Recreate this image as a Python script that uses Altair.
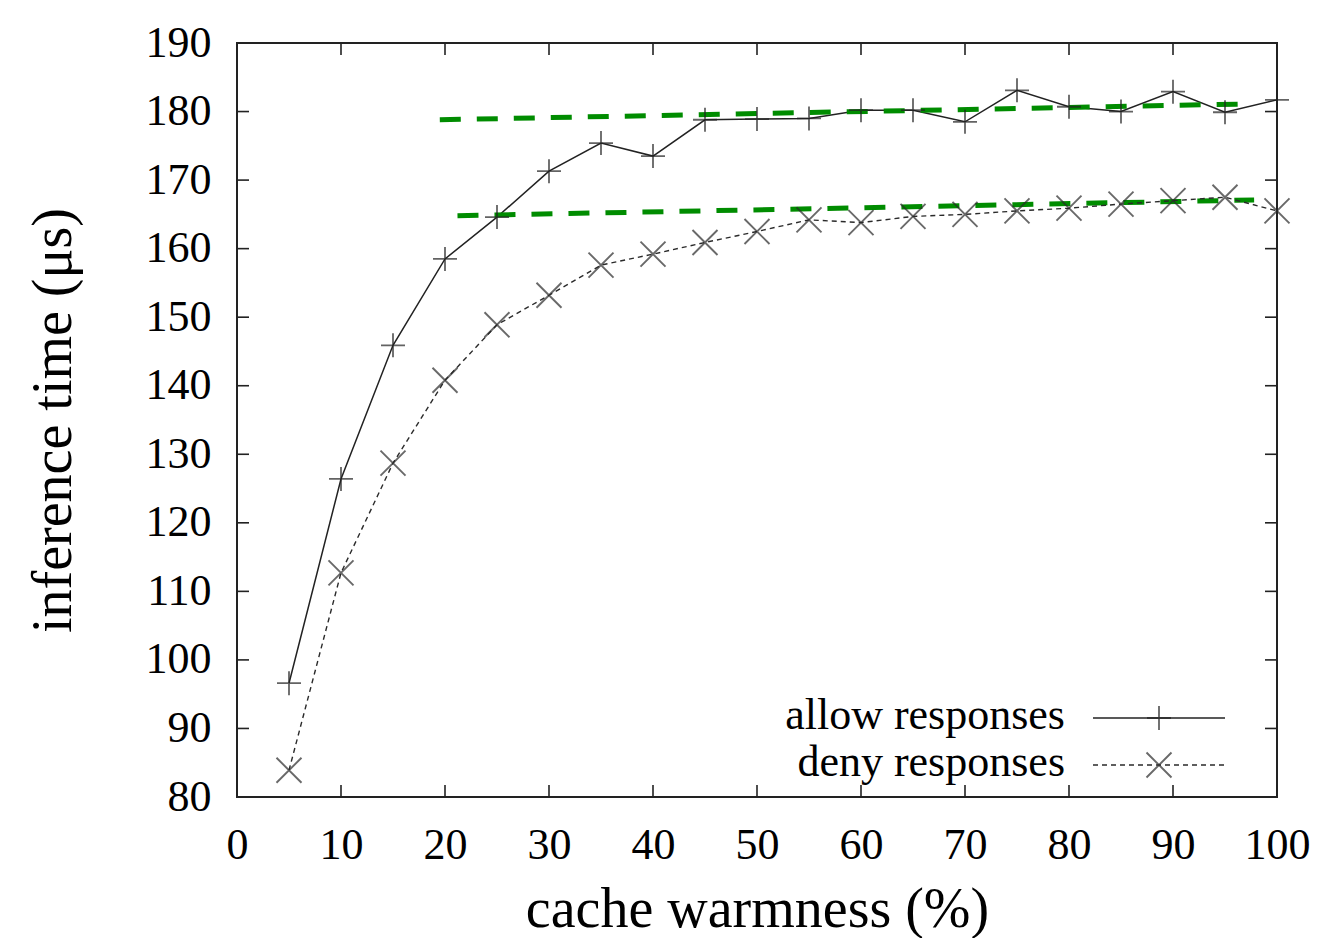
import altair as alt
import pandas as pd

# ---- data ----
WARMNESS = [5, 10, 15, 20, 25, 30, 35, 40, 45, 50, 55, 60, 65, 70, 75, 80, 85, 90, 95, 100]
ALLOW = [96.6, 126.4, 145.9, 158.5, 164.6, 171.3, 175.4, 173.5, 178.8, 178.9,
         179.0, 180.2, 180.2, 178.5, 183.1, 180.7, 180.0, 182.9, 179.9, 181.7]
DENY = [83.9, 112.7, 128.7, 140.8, 148.9, 153.2, 157.6, 159.2, 160.9, 162.5,
        164.2, 163.8, 164.7, 165.0, 165.5, 165.9, 166.5, 167.0, 167.5, 165.5]
SERIES = ["allow responses", "deny responses"]

TREND_ALLOW_X = [19.5, 96.9]
TREND_ALLOW_Y = [178.8, 181.1]
TREND_DENY_X = [21.2, 97.8]
TREND_DENY_Y = [164.8, 167.1]

XTICKS = list(range(0, 101, 10))
YTICKS = list(range(80, 191, 10))

W, H = 1040, 754
FONT = "Liberation Serif"
PLUS = "M-1,0L1,0M0,-1L0,1"
CROSS = "M-1,-1L1,1M-1,1L1,-1"

xscale = alt.Scale(domain=[0, 100], nice=False, zero=False)
yscale = alt.Scale(domain=[80, 190], nice=False, zero=False)

allow_df = pd.DataFrame({"x": WARMNESS, "y": ALLOW})
deny_df = pd.DataFrame({"x": WARMNESS, "y": DENY})
one = pd.DataFrame({"k": [0]})

xenc = alt.X("x:Q", scale=xscale, axis=alt.Axis(
    values=XTICKS, title="cache warmness (%)", ticks=False, domain=False, grid=False,
    labelFontSize=44, labelPadding=26, titleFontSize=56, titleFont=FONT, labelFont=FONT,
    titleFontWeight="normal", titlePadding=15, labelColor="black", titleColor="black",
    labelFlush=False))
yenc = alt.Y("y:Q", scale=yscale, axis=alt.Axis(
    values=YTICKS, title="inference time (μs)", ticks=False, domain=False, grid=False,
    labelFontSize=44, labelPadding=26, titleFontSize=56, titleFont=FONT, labelFont=FONT,
    titleFontWeight="normal", titlePadding=63, labelColor="black", titleColor="black",
    labelFlush=False))

allow_line = alt.Chart(allow_df).mark_line(color="#222", strokeWidth=1.5).encode(x=xenc, y=yenc)
allow_pts = alt.Chart(allow_df).mark_point(shape=PLUS, size=576, filled=False,
                                           color="#222", strokeWidth=1.8).encode(x="x:Q", y="y:Q")
deny_line = alt.Chart(deny_df).mark_line(color="#2a2a2a", strokeWidth=1.4,
                                         strokeDash=[5, 4]).encode(x="x:Q", y="y:Q")
deny_pts = alt.Chart(deny_df).mark_point(shape=CROSS, size=625, filled=False,
                                         color="#2a2a2a", strokeWidth=1.9).encode(x="x:Q", y="y:Q")

trend_a = alt.Chart(pd.DataFrame({"x": TREND_ALLOW_X, "y": TREND_ALLOW_Y})).mark_line(
    color="#008c00", strokeWidth=5, strokeDash=[21, 16]).encode(x="x:Q", y="y:Q")
trend_d = alt.Chart(pd.DataFrame({"x": TREND_DENY_X, "y": TREND_DENY_Y})).mark_line(
    color="#008c00", strokeWidth=5, strokeDash=[21, 16]).encode(x="x:Q", y="y:Q")

# inward ticks on all four sides (gnuplot style)
TK = 12
ydf = pd.DataFrame({"v": YTICKS})
xdf = pd.DataFrame({"v": XTICKS})
tick_style = dict(color="#222", strokeWidth=1.6)
yt_left = alt.Chart(ydf).mark_rule(**tick_style).encode(y="v:Q", x=alt.value(0), x2=alt.value(TK))
yt_right = alt.Chart(ydf).mark_rule(**tick_style).encode(y="v:Q", x=alt.value(W - TK), x2=alt.value(W))
xt_bot = alt.Chart(xdf).mark_rule(**tick_style).encode(x="v:Q", y=alt.value(H), y2=alt.value(H - TK))
xt_top = alt.Chart(xdf).mark_rule(**tick_style).encode(x="v:Q", y=alt.value(0), y2=alt.value(TK))

# key (label on the left, sample on the right)
LX, SX0, SX1, MX = 828, 856, 988, 922
R1, R2 = 675, 722
key_t1 = alt.Chart(one).mark_text(text=SERIES[0], align="right", baseline="middle",
                                  font=FONT, fontSize=44, color="black").encode(
    x=alt.value(LX), y=alt.value(R1 - 2))
key_t2 = alt.Chart(one).mark_text(text=SERIES[1], align="right", baseline="middle",
                                  font=FONT, fontSize=44, color="black").encode(
    x=alt.value(LX), y=alt.value(R2 - 2))
key_l1 = alt.Chart(one).mark_rule(color="#222", strokeWidth=1.5).encode(
    x=alt.value(SX0), x2=alt.value(SX1), y=alt.value(R1))
key_l2 = alt.Chart(one).mark_rule(color="#2a2a2a", strokeWidth=1.4, strokeDash=[5, 4]).encode(
    x=alt.value(SX0), x2=alt.value(SX1), y=alt.value(R2))
key_p1 = alt.Chart(one).mark_point(shape=PLUS, size=576, filled=False, color="#222",
                                   strokeWidth=1.8).encode(x=alt.value(MX), y=alt.value(R1))
key_p2 = alt.Chart(one).mark_point(shape=CROSS, size=625, filled=False, color="#2a2a2a",
                                   strokeWidth=1.9).encode(x=alt.value(MX), y=alt.value(R2))

chart = alt.layer(
    allow_line, trend_a, trend_d, deny_line, allow_pts, deny_pts,
    yt_left, yt_right, xt_bot, xt_top,
    key_t1, key_t2, key_l1, key_l2, key_p1, key_p2,
).properties(
    width=W, height=H,
    autosize=alt.AutoSizeParams(type="none"),
    padding={"left": 229, "top": 35, "right": 38, "bottom": 141},
    background="white",
).configure_view(
    stroke="#222", strokeWidth=2
)

chart.save("out.html", embed_options={"renderer": "svg", "actions": False})
